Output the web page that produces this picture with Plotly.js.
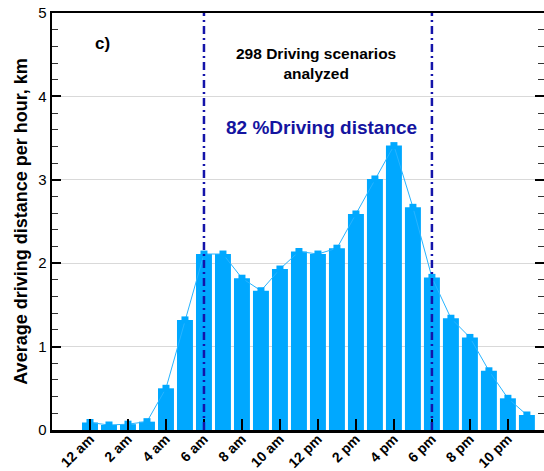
<!DOCTYPE html>
<html>
<head>
<meta charset="utf-8">
<script src="https://cdn.plot.ly/plotly-3.0.1.min.js"></script>
<style>html,body{margin:0;padding:0;overflow:hidden;background:#fff;}#chart{width:544px;height:471px;}</style>
</head>
<body>
<div id="chart"></div>
<script>
// Hour of day (0 = 12 am)
const hours = [0,1,2,3,4,5,6,7,8,9,10,11,12,13,14,15,16,17,18,19,20,21,22,23];
// Average driving distance per hour, km
const distance = [0.09,0.06,0.07,0.10,0.50,1.32,2.11,2.11,1.82,1.67,1.93,2.14,2.11,2.18,2.59,3.01,3.41,2.67,1.83,1.34,1.11,0.71,0.38,0.18];
const tickHours = [0,2,4,6,8,10,12,14,16,18,20,22];
const tickLabels = ["12 am","2 am","4 am","6 am","8 am","10 am","12 pm","2 pm","4 pm","6 pm","8 pm","10 pm"];
const boundaryHours = [6,18];

const barColor = "rgb(0,168,255)";
const traces = [
  {type:"bar", x:hours, y:distance, marker:{color:barColor, line:{width:0}}, width:0.84, hoverinfo:"x+y"},
  {type:"scatter", mode:"lines+markers", x:hours, y:distance,
   line:{color:"rgb(40,180,255)", width:1}, marker:{symbol:"square", size:7, color:barColor}}
];

const shapes = boundaryHours.map(h => ({
  type:"line", xref:"x", yref:"paper", x0:h, x1:h, y0:0, y1:1,
  line:{color:"rgb(20,20,170)", width:2.5, dash:"8px,4px,2px,4px"}
}));

const layout = {
  width:544, height:471,
  margin:{l:52, r:0, t:13, b:41},
  paper_bgcolor:"#fff", plot_bgcolor:"#fff",
  showlegend:false,
  font:{family:"Liberation Sans, Arial, sans-serif", color:"#000"},
  xaxis:{
    range:[-2,23.9], tickmode:"array", tickvals:tickHours, ticktext:tickLabels,
    tickangle:-45, tickfont:{size:14, family:"Liberation Sans, Arial, sans-serif", weight:"bold"},
    ticklabelstandoff:-7,
    ticks:"inside", ticklen:11, tickwidth:2, tickcolor:"#000",
    showline:true, linewidth:2.5, linecolor:"#000", mirror:true,
    showgrid:false, zeroline:false
  },
  yaxis:{
    range:[0,5], dtick:1, tick0:0,
    ticks:"inside", ticklen:9, tickwidth:2, tickcolor:"#000",
    minor:{dtick:0.2, ticks:"inside", ticklen:6, tickwidth:1, tickcolor:"#333", showgrid:false},
    tickfont:{size:15},
    showline:true, linewidth:2.5, linecolor:"#000", mirror:"ticks",
    showgrid:true, gridcolor:"#d9d9d9", gridwidth:1, zeroline:false,
    title:{text:"Average driving distance per hour, km", font:{size:18, weight:"bold"}, standoff:6}
  },
  shapes:shapes,
  annotations:[
    {text:"c)", xref:"x", yref:"y", x:0.68, y:4.64, showarrow:false, font:{size:17, weight:"bold"}},
    {text:"298 Driving scenarios<br>analyzed", xref:"x", yref:"y", x:11.9, y:4.39, showarrow:false, font:{size:15.5, weight:"bold"}},
    {text:"82 %Driving distance", xref:"x", yref:"y", x:12.2, y:3.63, showarrow:false, font:{size:19, weight:"bold", color:"rgb(20,20,160)"}}
  ]
};

Plotly.newPlot("chart", traces, layout, {displayModeBar:false, staticPlot:true});
</script>
</body>
</html>
